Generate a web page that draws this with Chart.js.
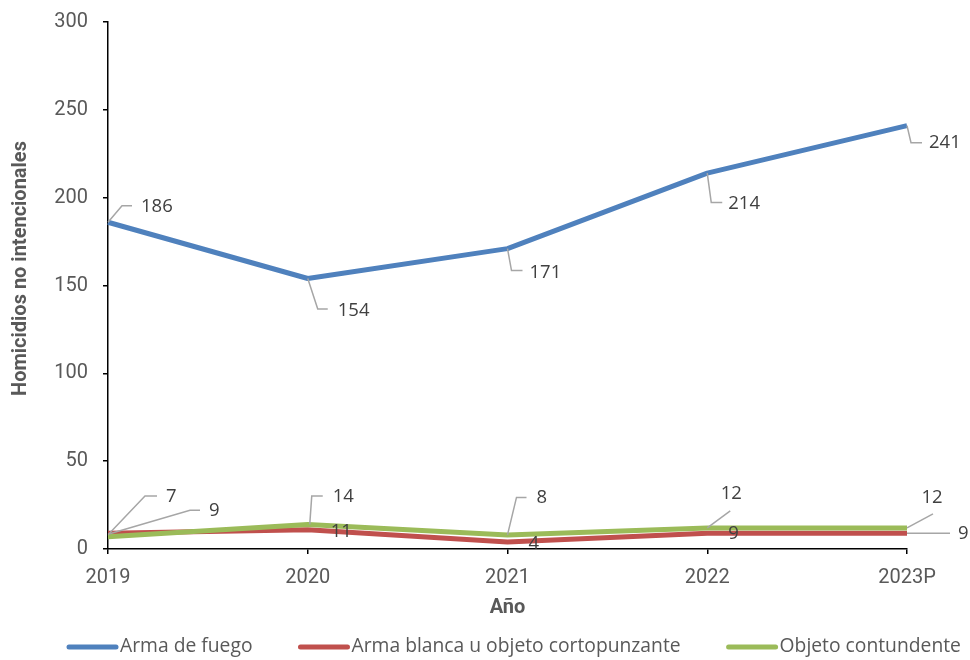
<!DOCTYPE html>
<html>
<head>
<meta charset="utf-8">
<script src="https://cdn.jsdelivr.net/npm/chart.js@4.4.1/dist/chart.umd.min.js"></script>
<style>
  html, body { margin: 0; padding: 0; background: #ffffff; }
  #wrap { width: 970px; height: 660px; position: relative; }
</style>
</head>
<body>
<div id="wrap"><canvas id="c" width="970" height="660"></canvas></div>
<script>
// ---- data ----
const years = ["2019", "2020", "2021", "2022", "2023P"];
const armaDeFuego = [186, 154, 171, 214, 241];
const armaBlanca = [9, 11, 4, 9, 9];
const objetoContundente = [7, 14, 8, 12, 12];
const seriesNames = ["Arma de fuego", "Arma blanca u objeto cortopunzante", "Objeto contundente"];
const yTicks = [0, 50, 100, 150, 200, 250, 300];
const xTitle = "Año";
const yTitle = "Homicidios no intencionales";

// ---- label placement (pixel offsets from each point) ----
const labelPlacement = [
  [ {t:[33,-16], l:[[0,0],[14,-16.5],[24,-16.5]]},
    {t:[30,32],  l:[[0,0],[10,30.5],[20,30.5]]},
    {t:[22,24],  l:[[0,0],[4,22],[15,22]]},
    {t:[21,30.5],l:[[0,0],[4,29.5],[15,29.5]]},
    {t:[22,17],  l:[[0,0],[4,17],[15,17]]} ],
  [ {t:[101,-22], l:[[0,1],[82,-23],[92,-23]]},
    {t:[23,2]},
    {t:[21,2]},
    {t:[21,1]},
    {t:[51,1], l:[[0,0],[43,0]]} ],
  [ {t:[58,-40], l:[[1,-3],[37,-40.75],[49,-40.75]]},
    {t:[25,-27.5], l:[[2,0],[4,-28.5],[15,-28.5]]},
    {t:[29,-37], l:[[0,0],[9,-37.5],[19,-37.5]]},
    {t:[24,-34], l:[[0,0],[23,-17]], c:true},
    {t:[25,-30], l:[[0,0],[26,-14]], c:true} ]
];

const colors = ["#4F81BD", "#C0504D", "#9BBB59"];

const labelsPlugin = {
  id: 'callouts',
  afterDatasetsDraw(chart) {
    const ctx = chart.ctx;
    ctx.save();
    chart.data.datasets.forEach((ds, di) => {
      const meta = chart.getDatasetMeta(di);
      meta.data.forEach((pt, i) => {
        const p = labelPlacement[di][i];
        const x = pt.x, y = pt.y;
        if (p.l) {
          ctx.beginPath();
          ctx.strokeStyle = '#A6A6A6';
          ctx.lineWidth = 1.5;
          p.l.forEach((q, k) => {
            if (k === 0) ctx.moveTo(x + q[0], y + q[1]);
            else ctx.lineTo(x + q[0], y + q[1]);
          });
          ctx.stroke();
        }
        ctx.font = '18.5px "Open Sans"';
        ctx.fillStyle = '#404040';
        ctx.textBaseline = 'middle';
        ctx.textAlign = p.c ? 'center' : 'left';
        ctx.fillText(String(ds.data[i]), x + p.t[0], y + p.t[1]);
      });
    });
    ctx.restore();
  },
  afterDraw(chart) {
    const ctx = chart.ctx;
    const area = chart.chartArea;
    ctx.save();
    // y axis title
    ctx.font = 'bold 20px Roboto';
    ctx.fillStyle = '#595959';
    ctx.textAlign = 'center';
    ctx.textBaseline = 'middle';
    ctx.translate(21, (area.top + area.bottom) / 2 - 17);
    ctx.rotate(-Math.PI / 2);
    ctx.fillText(yTitle, 0, 0);
    ctx.restore();
    // legend
    ctx.save();
    ctx.font = '19.3px "Open Sans"';
    ctx.textBaseline = 'middle';
    ctx.textAlign = 'left';
    let lx = 67;
    const ly = 647;
    chart.data.datasets.forEach((ds, di) => {
      ctx.beginPath();
      ctx.strokeStyle = ds.borderColor;
      ctx.lineWidth = 5;
      ctx.lineCap = 'round';
      ctx.moveTo(lx + 2, ly);
      ctx.lineTo(lx + 49, ly);
      ctx.stroke();
      ctx.fillStyle = '#595959';
      ctx.fillText(ds.label, lx + 53, ly);
      lx += 53 + ctx.measureText(ds.label).width + 46;
    });
    ctx.restore();
  }
};

new Chart(document.getElementById('c'), {
  type: 'line',
  data: {
    labels: years,
    datasets: [
      { label: seriesNames[0], data: armaDeFuego, borderColor: colors[0], backgroundColor: colors[0], order: 2 },
      { label: seriesNames[1], data: armaBlanca, borderColor: colors[1], backgroundColor: colors[1], order: 1 },
      { label: seriesNames[2], data: objetoContundente, borderColor: colors[2], backgroundColor: colors[2], order: 0 }
    ]
  },
  options: {
    responsive: false,
    animation: false,
    devicePixelRatio: 1,
    elements: {
      line: { borderWidth: 5, tension: 0, borderJoinStyle: 'round', fill: false },
      point: { radius: 0, hoverRadius: 0 }
    },
    layout: { padding: { left: 0, right: 63, top: 22, bottom: 40 } },
    plugins: { legend: { display: false }, tooltip: { enabled: false } },
    scales: {
      x: {
        offset: false,
        grid: { display: true, drawOnChartArea: false, drawTicks: true, tickLength: 5, color: '#000', lineWidth: 1.5 },
        border: { display: true, color: '#000', width: 1.5 },
        ticks: { color: '#595959', font: { family: 'Roboto', size: 20 }, padding: 12, maxRotation: 0 },
        title: { display: true, text: xTitle, color: '#595959', font: { family: 'Roboto', size: 20, weight: 'bold' }, padding: { top: 0, bottom: 0 } },
        afterFit(scale) { scale.height = 71; scale.paddingLeft = 0; scale.paddingRight = 0; }
      },
      y: {
        min: yTicks[0],
        max: yTicks[yTicks.length - 1],
        afterBuildTicks(scale) { scale.ticks = yTicks.map(v => ({ value: v })); },
        grid: { display: true, drawOnChartArea: false, drawTicks: true, tickLength: 5, color: '#000', lineWidth: 1.5 },
        border: { display: true, color: '#000', width: 1.5 },
        ticks: { color: '#595959', font: { family: 'Roboto', size: 20 }, padding: 15 },
        afterFit(scale) { scale.width = 108; scale.paddingTop = 0; scale.paddingBottom = 0; }
      }
    }
  },
  plugins: [labelsPlugin]
});
</script>
</body>
</html>
